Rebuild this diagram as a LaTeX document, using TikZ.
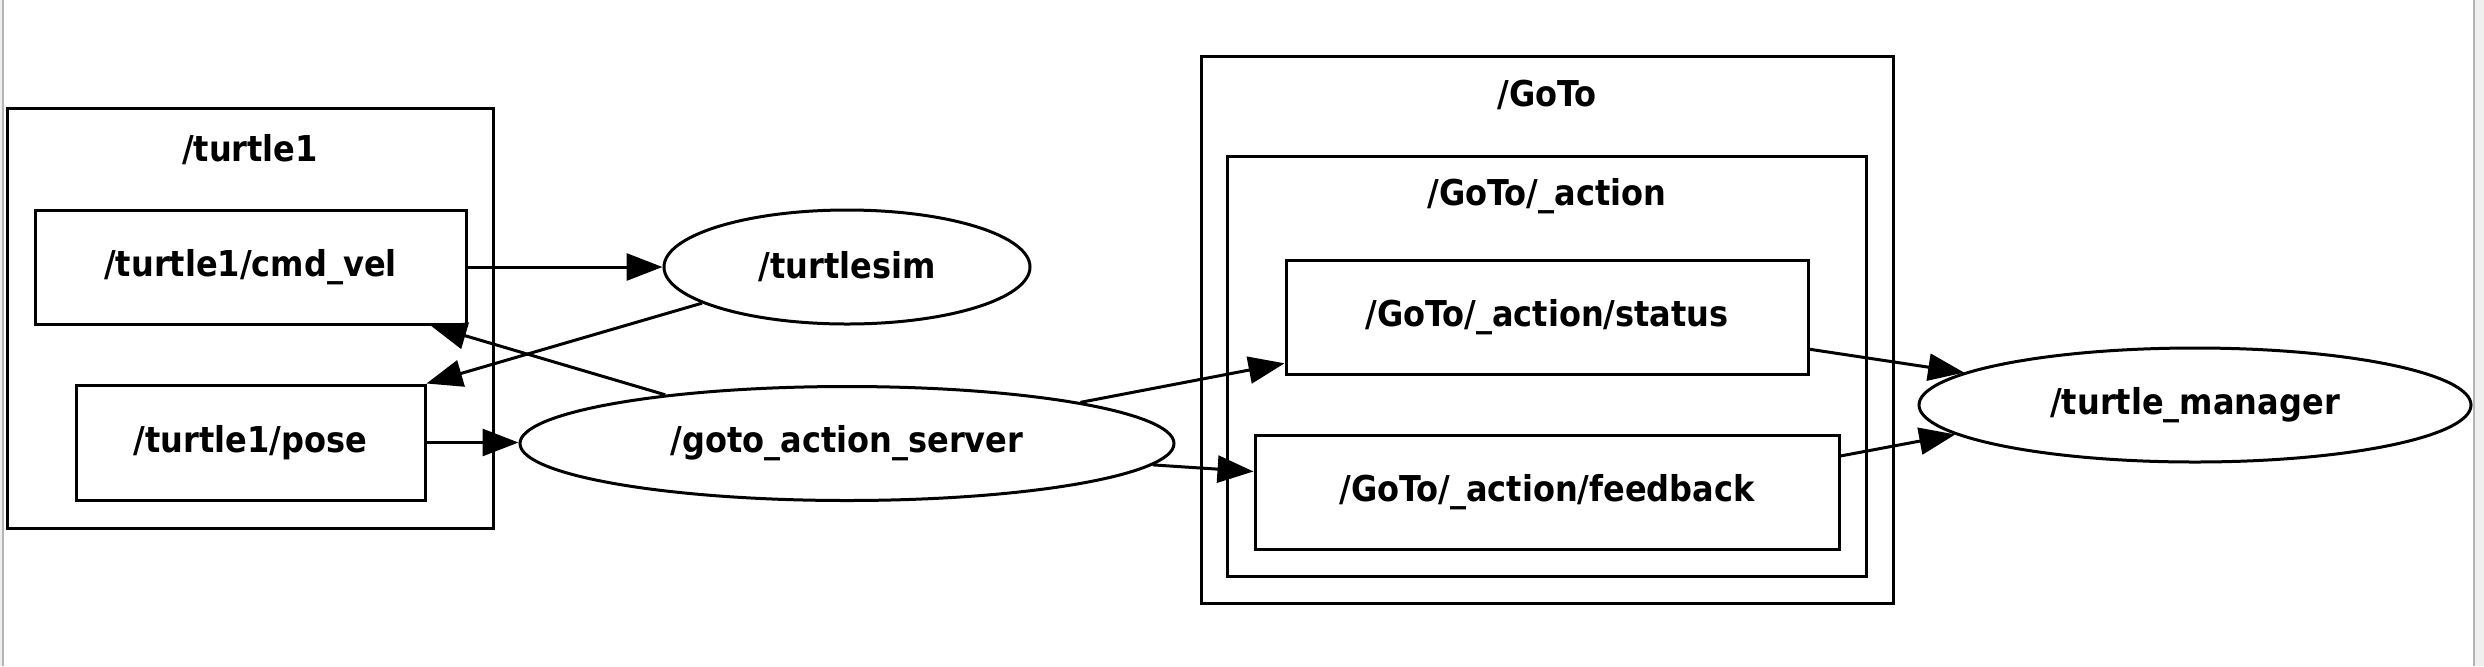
\documentclass[tikz,border=0pt]{standalone}
\usepackage{fontspec}
\setmainfont{DejaVu Sans Condensed Bold}
\usetikzlibrary{shapes.geometric,arrows.meta}
\definecolor{bgout}{HTML}{EFEFEF}
\definecolor{edgegrey}{HTML}{B4B4B4}
\tikzset{
  topic/.style={draw=black, line width=1.5pt, rectangle, inner sep=0pt, font=\fontsize{17.8pt}{20pt}\selectfont},
  gnode/.style={draw=black, line width=1.5pt, ellipse, inner sep=0pt, font=\fontsize{17.8pt}{20pt}\selectfont},
  cluster/.style={draw=black, line width=1.5pt},
  clabel/.style={inner sep=0pt, font=\fontsize{17.8pt}{20pt}\selectfont},
  conn/.style={line width=1.5pt, -{Triangle[length=18pt,width=13.5pt]}}
}
\begin{document}
\begin{tikzpicture}[x=0.5pt,y=-0.5pt]
\useasboundingbox (0,0) rectangle (2484,666);
% window background
\fill[bgout] (0,0) rectangle (2484,666);
\fill[white] (3,0) rectangle (2474,666);
\draw[edgegrey, line width=0.6pt] (3,0) -- (3,666);
\draw[edgegrey, line width=0.6pt] (2474,0) -- (2474,666);
% clusters
\draw[cluster] (7,108) rectangle (493,528);
\node[clabel] (lt1) at (250,150) {/turtle1};
\draw[cluster] (1201,56) rectangle (1893,603);
\node[clabel] (lgoto) at (1547,95) {/GoTo};
\draw[cluster] (1227,156) rectangle (1866,576);
\node[clabel] (lact) at (1547,196) {/GoTo/\_action};
% topics
\node[topic, minimum width=215.5pt, minimum height=57pt] (cmdvel) at (250.5,267) {/turtle1/cmd\_vel};
\node[topic, minimum width=174.5pt, minimum height=57.5pt] (pose) at (250.5,442.5) {/turtle1/pose};
\node[topic, minimum width=261pt, minimum height=57pt] (status) at (1547,317) {/GoTo/\_action/status};
\node[topic, minimum width=292pt, minimum height=57pt] (feedback) at (1547,492) {/GoTo/\_action/feedback};
% nodes
\node[gnode, minimum width=183pt, minimum height=57pt] (tsim) at (847,267) {/turtlesim};
\node[gnode, minimum width=327pt, minimum height=57pt] (gas) at (847,443.5) {/goto\_action\_server};
\node[gnode, minimum width=276pt, minimum height=57pt] (tm) at (2195,405) {/turtle\_manager};
% connectors
\draw[conn] (cmdvel.east) -- (tsim.west);
\draw[conn] (tsim.194.5) -- (pose.north east);
\draw[conn] (gas.165) -- (cmdvel.-18);
\draw[conn] (pose.east) -- (gas.west |- pose.east);
\draw[conn] (gas.10.4) -- (status.190);
\draw[conn] (gas.-4) -- (feedback.176);
\draw[conn] (status.-7.5) -- (tm.172);
\draw[conn] (feedback.7.6) -- (tm.187);
\end{tikzpicture}
\end{document}
